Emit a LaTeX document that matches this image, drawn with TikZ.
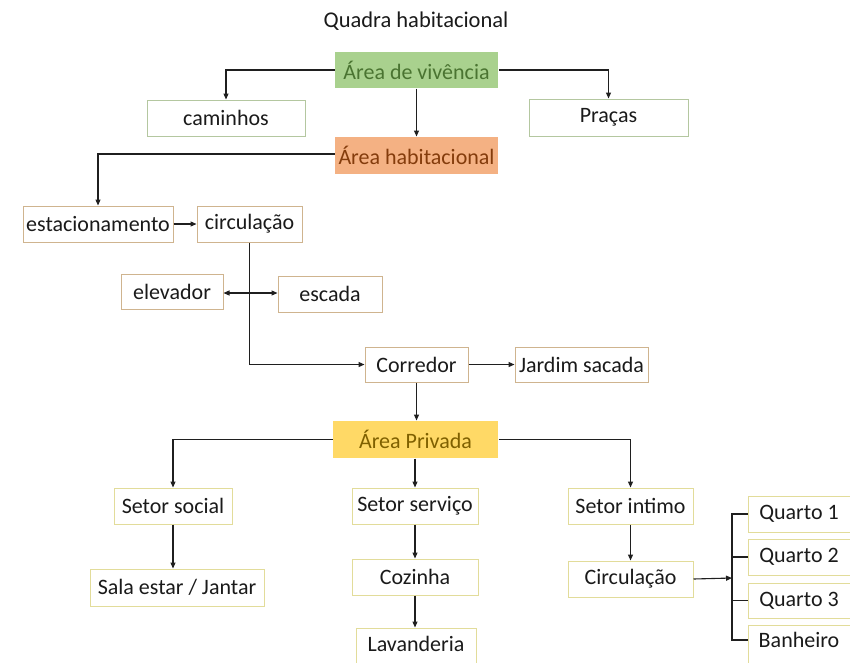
\documentclass[tikz,border=0pt]{standalone}
\usepackage{fontspec}
\setmainfont{Carlito}
\usetikzlibrary{arrows.meta}
\definecolor{linec}{HTML}{1F1F1F}
\definecolor{greenfill}{HTML}{A9D18E}
\definecolor{greentext}{HTML}{4A7431}
\definecolor{orangefill}{HTML}{F4B183}
\definecolor{orangetext}{HTML}{843C0C}
\definecolor{goldfill}{HTML}{FFD966}
\definecolor{goldtext}{HTML}{7F6000}
\definecolor{greenborder}{HTML}{B4C7A0}
\definecolor{tanborder}{HTML}{CFB48F}
\definecolor{khakiborder}{HTML}{E2DC9A}
\definecolor{textc}{HTML}{1A1A1A}
\tikzset{
  base/.style={rectangle, inner sep=0pt, text=textc, font=\fontsize{22}{26}\selectfont, line width=1pt},
  gbox/.style={base, draw=greenborder},
  tbox/.style={base, draw=tanborder},
  kbox/.style={base, draw=khakiborder},
  fillbox/.style={base, draw=none},
  arr/.style={draw=linec, line width=1.1pt, -{Triangle[length=6pt,width=5pt]}},
  arrboth/.style={draw=linec, line width=1.1pt, {Triangle[length=6pt,width=5pt]}-{Triangle[length=6pt,width=5pt]}},
  ln/.style={draw=linec, line width=1.1pt},
}
\begin{document}
\begin{tikzpicture}[x=1pt,y=-1pt]
\useasboundingbox (0,0) rectangle (850,662);
\node[base, font=\fontsize{22.5}{26}\selectfont] (title) at (416,21) {Quadra habitacional};
% top level
\node[fillbox, fill=greenfill, text=greentext, minimum width=163, minimum height=36] (viv) at (416.5,70) {Área de vivência};
\node[gbox, minimum width=158, minimum height=36] (cam) at (226,118) {caminhos};
\node[gbox, minimum width=159, minimum height=37] (pra) at (608.5,117.5) {Praças};
\node[fillbox, fill=orangefill, text=orangetext, minimum width=163, minimum height=37] (hab) at (416.5,155.5) {Área habitacional};
% middle
\node[tbox, minimum width=150, minimum height=36] (est) at (98,224) {estacionamento};
\node[tbox, minimum width=105, minimum height=36] (circ) at (249.5,224) {circulação};
\node[tbox, minimum width=102, minimum height=35] (elev) at (172,292) {elevador};
\node[tbox, minimum width=104, minimum height=36] (esc) at (330,294) {escada};
\node[tbox, minimum width=103, minimum height=35] (cor) at (416.5,364.5) {Corredor};
\node[tbox, minimum width=133, minimum height=35] (jar) at (581.5,364.5) {Jardim sacada};
\node[fillbox, fill=goldfill, text=goldtext, minimum width=165, minimum height=37] (priv) at (415.5,439.5) {Área Privada};
% bottom
\node[kbox, minimum width=118, minimum height=36] (soc) at (173,506) {Setor social};
\node[kbox, minimum width=174, minimum height=37] (sala) at (177,587.5) {Sala estar / Jantar};
\node[kbox, minimum width=126, minimum height=36] (serv) at (415,506) {Setor serviço};
\node[kbox, minimum width=126, minimum height=36] (coz) at (415,577) {Cozinha};
\node[kbox, minimum width=120, minimum height=40] (lav) at (416,648) {};
\node[base] (lavt) at (416,644) {Lavanderia};
\node[kbox, minimum width=125, minimum height=36] (int) at (630.5,506) {Setor intimo};
\node[kbox, minimum width=125, minimum height=36] (circb) at (630.5,579) {Circulação};
\node[kbox, minimum width=102, minimum height=36] (q1) at (799,514) {Quarto 1};
\node[kbox, minimum width=102, minimum height=36] (q2) at (799,557) {Quarto 2};
\node[kbox, minimum width=102, minimum height=35] (q3) at (799,600.5) {Quarto 3};
\node[kbox, minimum width=102, minimum height=42] (ban) at (799,646) {};
\node[base] (bant) at (799,640) {Banheiro};
\coordinate (brk) at (732,578);
% connectors
\draw[arr] (viv.west) -| (cam.north);
\draw[arr] (viv.east) -| (pra.north);
\draw[arr] (viv.south) -- (hab.north);
\draw[arr] ([yshift=1.5]hab.west) -| (est.north);
\draw[arr] (est.east) -- (circ.west);
\draw[arr] (circ.south) |- (cor.west);
\draw[arrboth] ([yshift=-1]elev.east) -- ([yshift=-1]elev.east -| esc.west);
\draw[arr] (cor.east) -- (jar.west);
\draw[arr] (cor.south) -- (cor.south |- priv.north);
\draw[arr] (priv.west) -| (soc.north);
\draw[arr] (priv.south -| serv.north) -- (serv.north);
\draw[arr] (priv.east) -| (int.north);
\draw[arr] (soc.south) -- (soc.south |- sala.north);
\draw[arr] (serv.south) -- (coz.north);
\draw[arr] (coz.south) -- (coz.south |- lav.north);
\draw[arr] (int.south) -- (circb.north);
\draw[arr] (circb.east) -- (brk);
\draw[ln] (q1.west) -| (brk) |- (ban.west |- bant.center);
\draw[ln] (q2.west) -- (q2.west -| brk);
\draw[ln] (q3.west) -- (q3.west -| brk);
\end{tikzpicture}
\end{document}
